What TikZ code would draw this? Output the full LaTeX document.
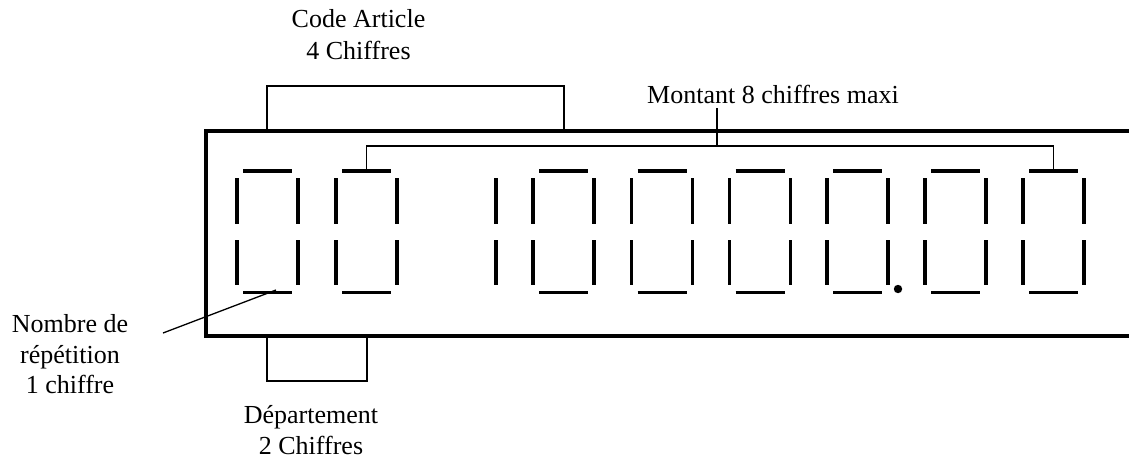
\documentclass[tikz,border=0pt]{standalone}
\usepackage{fontspec}
\setmainfont{Liberation Serif}
\begin{document}
\begin{tikzpicture}[x=1pt,y=-1pt,
  seg/.style={line width=3.5pt},
  frame/.style={line width=3.6pt},
  thin/.style={line width=1.3pt},
  lbl/.style={font=\fontsize{26}{30}\selectfont, inner sep=0pt, anchor=base}]
\useasboundingbox (0,0) rectangle (1129,459);
% display frame (runs off the right edge)
\begin{scope}
\clip (0,0) rectangle (1129,459);
\draw[frame] (1145,131) -- (206,131) -- (206,336) -- (1145,336);
\end{scope}
% seven-segment digits showing "0"
\foreach \L in {237,336,533,631.5,729.5,827,925,1023}{
  \draw[seg] (\L+6,171) -- (\L+55,171);
  \draw[seg] (\L+6,292.7) -- (\L+55,292.7);
  \draw[seg] (\L,178) -- (\L,224) (\L,240) -- (\L,285);
  \draw[seg] (\L+61,178) -- (\L+61,224) (\L+61,240) -- (\L+61,285);
}
% digit "1"
\draw[seg] (496,178) -- (496,224) (496,240) -- (496,285);
% decimal point
\fill (898,289) circle (4.2);
% labels
\node[lbl] (ca1) at (358.5,27) {Code Article};
\node[lbl] (ca2) at (358.5,59) {4 Chiffres};
\node[lbl] (mt) at (773,103) {Montant 8 chiffres maxi};
\node[lbl] (nr1) at (70,332) {Nombre de};
\node[lbl] (nr2) at (70,363) {répétition};
\node[lbl] (nr3) at (70,393) {1 chiffre};
\node[lbl] (dp1) at (311,423) {Département};
\node[lbl] (dp2) at (311,454) {2 Chiffres};
% connector points
\coordinate (caL) at (267,131);
\coordinate (caR) at (564,131);
\coordinate (caT) at (267,86);
\coordinate (dpL) at (267,336);
\coordinate (dpR) at (367,336);
\coordinate (dpB) at (267,381);
\coordinate (mtL) at (366.5,169.5);
\coordinate (mtR) at (1053.5,169.5);
\coordinate (mtH) at (366.5,146);
\coordinate (mtTick) at (717,146);
\coordinate (mtTop) at (717,108);
\coordinate (nrS) at (163,333);
\coordinate (nrE) at (276,290);
% brackets
\draw[thin] (caL) -- (caT) -| (caR);
\draw[thin] (dpL) -- (dpB) -| (dpR);
\draw[thin] (mtL) -- (mtH) -| (mtR);
\draw[thin] (mtTick) -- (mtTop);
\draw[thin] (nrS) -- (nrE);
\end{tikzpicture}
\end{document}
